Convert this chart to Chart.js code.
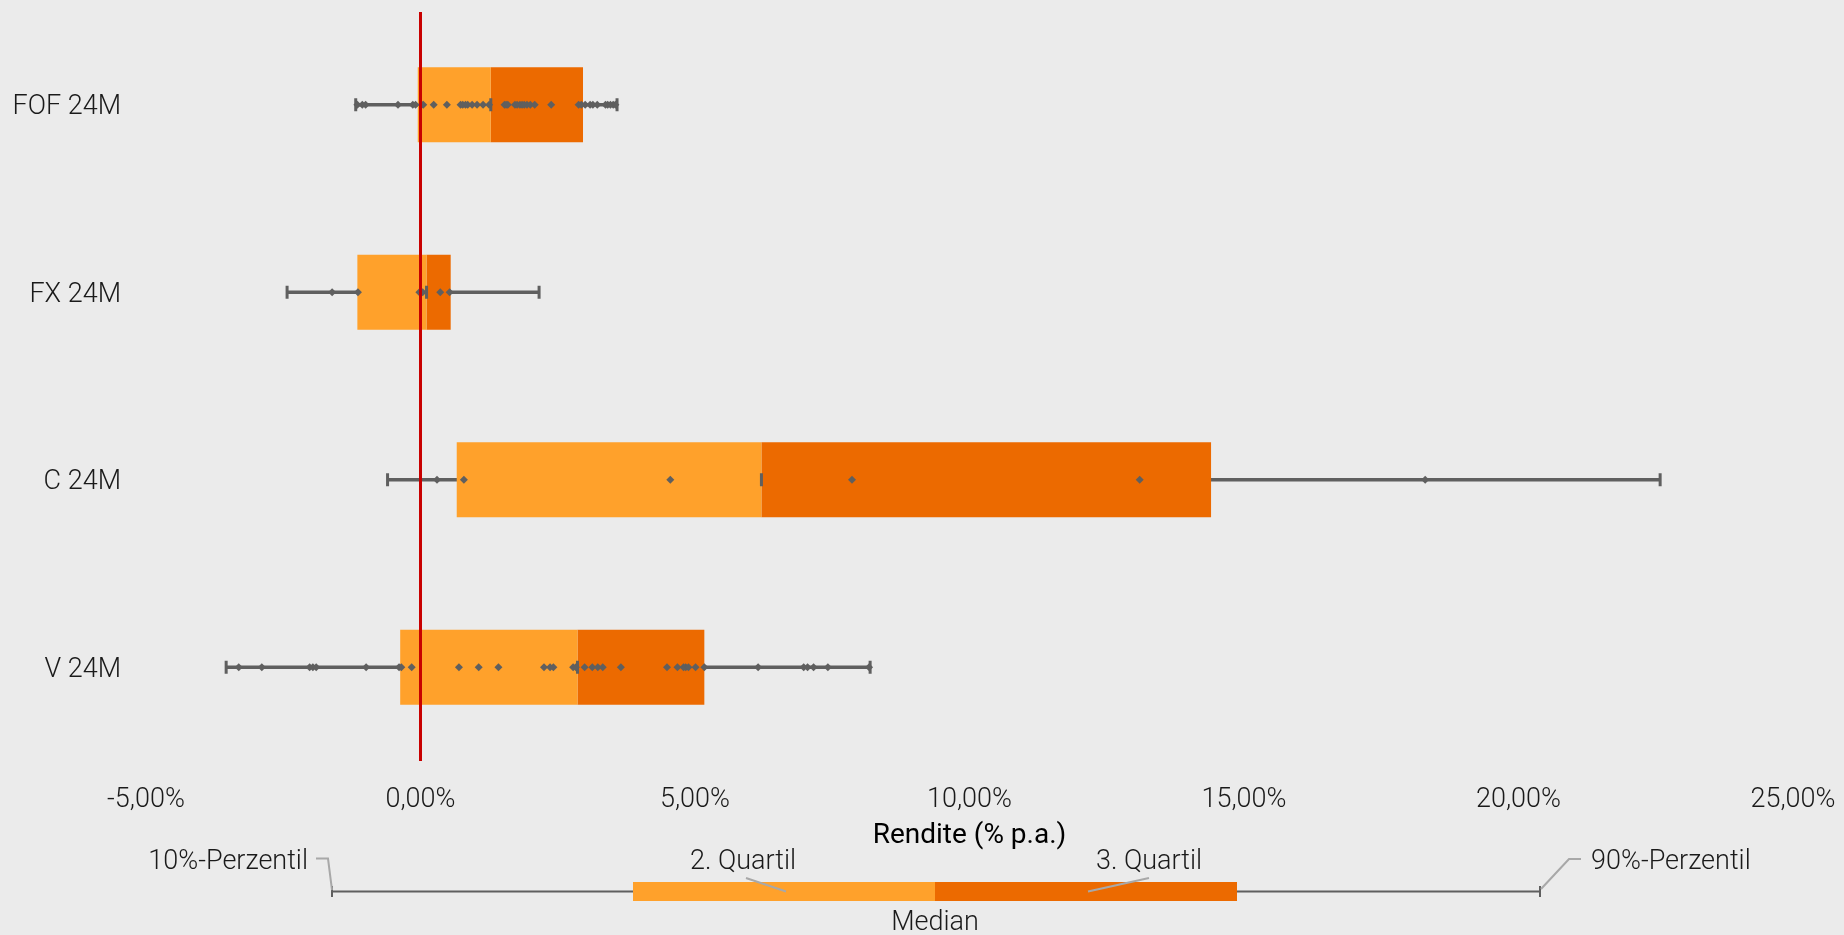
<!DOCTYPE html>
<html lang="de">
<head>
<meta charset="UTF-8">
<title>Rendite (% p.a.)</title>
<script src="https://cdn.jsdelivr.net/npm/chart.js@4/dist/chart.umd.min.js"></script>
<style>
  html, body { margin: 0; padding: 0; background: #ebebeb; }
</style>
</head>
<body>
<canvas id="myChart" width="1844" height="935"></canvas>
<script>
// Kategorien und Kennzahlen (Rendite in % p.a.)
const kategorien = ['FOF 24M', 'FX 24M', 'C 24M', 'V 24M'];
const perzentil10 = [-1.18, -2.43, -0.60, -3.54];
const quartil1   = [-0.05, -1.15, 0.66, -0.37];
const median     = [1.28, 0.11, 6.21, 2.86];
const quartil3   = [2.96, 0.55, 14.40, 5.17];
const perzentil90 = [3.58, 2.16, 22.58, 8.19];

// Einzelwerte je Kategorie
const punkteFOF = [-1.15, -1.06, -1.00, -0.41, -0.14, -0.09, 0.02, 0.05, 0.24, 0.48, 0.73, 0.77, 0.82, 0.86, 0.94,
  1.03, 1.14, 1.25, 1.53, 1.56, 1.59, 1.72, 1.76, 1.81, 1.85, 1.89, 1.94, 2.00, 2.08, 2.38, 2.88, 2.93, 3.00,
  3.09, 3.14, 3.22, 3.37, 3.41, 3.46, 3.51, 3.55];
const punkteFX = [-1.61, -1.14, -0.02, 0.04, 0.36, 0.53];
const punkteC = [0.30, 0.79, 4.55, 7.86, 13.10, 18.30];
const punkteV = [-3.31, -2.89, -2.02, -1.96, -1.90, -0.99, -0.39, -0.35, -0.16, 0.70, 1.06, 1.42, 2.25, 2.36, 2.42,
  2.78, 2.83, 2.99, 3.13, 3.23, 3.32, 3.65, 4.49, 4.68, 4.79, 4.83, 4.88, 5.01, 5.17, 6.15, 6.98, 7.05, 7.16, 7.42, 8.17];
const punkte = [punkteFOF, punkteFX, punkteC, punkteV];

// Achse
const xMin = -5;
const xMax = 25;
const xSchritt = 5;
const achsenTitel = 'Rendite (% p.a.)';

// Farben
const farbeQ2 = '#ffa12b';
const farbeQ3 = '#ec6a00';
const farbeGrau = '#5f5f5f';
const farbeRot = '#c80000';
const farbeText = '#1a1a1a';
const schrift = "Roboto, 'Liberation Sans', sans-serif";

const formatProzent = v => v.toFixed(2).replace('.', ',') + '%';

// Hintergrund
const hintergrund = {
    id: 'hintergrund',
    beforeDraw(chart) {
        const ctx = chart.ctx;
        ctx.save();
        ctx.fillStyle = '#ebebeb';
        ctx.fillRect(0, 0, chart.width, chart.height);
        ctx.restore();
    }
};

// rote Linie bei 0 %
const nullLinie = {
    id: 'nullLinie',
    afterDatasetsDraw(chart) {
        const ctx = chart.ctx;
        const x = chart.scales.x.getPixelForValue(0);
        ctx.save();
        ctx.strokeStyle = farbeRot;
        ctx.lineWidth = 3;
        ctx.beginPath();
        ctx.moveTo(x, chart.chartArea.top + 1);
        ctx.lineTo(x, chart.chartArea.bottom);
        ctx.stroke();
        ctx.restore();
    }
};

// Legende (Schema eines Boxplots) unterhalb der Achse
const legende = {
    id: 'legende',
    afterDraw(chart) {
        const ctx = chart.ctx;
        ctx.save();
        const yLinie = 891.5;
        // Whisker
        ctx.strokeStyle = farbeGrau;
        ctx.lineWidth = 2;
        ctx.beginPath();
        ctx.moveTo(332, yLinie);
        ctx.lineTo(1540, yLinie);
        ctx.moveTo(332, 886);
        ctx.lineTo(332, 897);
        ctx.moveTo(1540, 886);
        ctx.lineTo(1540, 897);
        ctx.stroke();
        // Box
        ctx.fillStyle = farbeQ2;
        ctx.fillRect(633, 882, 302, 19);
        ctx.fillStyle = farbeQ3;
        ctx.fillRect(935, 882, 302, 19);
        // Hinweislinien
        ctx.strokeStyle = '#a8a8a8';
        ctx.lineWidth = 2;
        ctx.beginPath();
        ctx.moveTo(316, 858.5); ctx.lineTo(328, 858.5); ctx.lineTo(332, 890);
        ctx.moveTo(746, 878); ctx.lineTo(786, 891.5);
        ctx.moveTo(1149, 878); ctx.lineTo(1088, 891.5);
        ctx.moveTo(1581, 859); ctx.lineTo(1569, 859); ctx.lineTo(1541, 889);
        ctx.stroke();
        // Texte
        ctx.fillStyle = farbeText;
        ctx.font = '300 27px ' + schrift;
        ctx.textBaseline = 'middle';
        ctx.textAlign = 'right';
        ctx.fillText('10%-Perzentil', 308, 862);
        ctx.textAlign = 'left';
        ctx.fillText('90%-Perzentil', 1591, 862);
        ctx.textAlign = 'center';
        ctx.fillText('2. Quartil', 743, 862);
        ctx.fillText('3. Quartil', 1149, 862);
        ctx.fillText('Median', 935, 923);
        ctx.restore();
    }
};

const punktDaten = [];
punkte.forEach((liste, i) => liste.forEach(v => punktDaten.push({ x: v, y: kategorien[i] })));

const strichDaten = [];
kategorien.forEach((k, i) => {
    strichDaten.push({ x: perzentil10[i], y: k });
    strichDaten.push({ x: median[i], y: k });
    strichDaten.push({ x: perzentil90[i], y: k });
});

const data = {
    labels: kategorien,
    datasets: [{
        type: 'scatter',
        label: 'Einzelwerte',
        indexAxis: 'x',
        data: punktDaten,
        pointStyle: 'rectRot',
        pointRadius: 4,
        pointBackgroundColor: farbeGrau,
        pointBorderWidth: 0,
        order: 0
    }, {
        type: 'scatter',
        label: 'Striche',
        indexAxis: 'x',
        data: strichDaten,
        pointStyle: 'line',
        pointRotation: 90,
        pointRadius: 6.5,
        pointBorderColor: farbeGrau,
        pointBorderWidth: 3,
        order: 1
    }, {
        label: '2. Quartil',
        data: kategorien.map((k, i) => [quartil1[i], median[i]]),
        backgroundColor: farbeQ2,
        grouped: false,
        order: 2
    }, {
        label: '3. Quartil',
        data: kategorien.map((k, i) => [median[i], quartil3[i]]),
        backgroundColor: farbeQ3,
        grouped: false,
        order: 2
    }, {
        label: 'Spanne',
        data: kategorien.map((k, i) => [perzentil10[i], perzentil90[i]]),
        backgroundColor: farbeGrau,
        barThickness: 3,
        grouped: false,
        order: 3
    }]
};

const config = {
    type: 'bar',
    data: data,
    options: {
        indexAxis: 'y',
        responsive: false,
        animation: false,
        devicePixelRatio: 1,
        categoryPercentage: 1,
        barPercentage: 0.4,
        layout: { padding: { top: 11, right: 51, bottom: 82, left: 0 } },
        plugins: { legend: { display: false }, tooltip: { enabled: false } },
        scales: {
            x: {
                type: 'linear',
                position: 'bottom',
                min: xMin,
                max: xMax,
                grid: { display: false, drawTicks: false },
                border: { display: false },
                ticks: {
                    stepSize: xSchritt,
                    padding: 23,
                    color: farbeText,
                    font: { family: schrift, size: 27, weight: 300 },
                    callback: v => formatProzent(v)
                },
                title: {
                    display: true,
                    text: achsenTitel,
                    color: '#000',
                    padding: 0,
                    font: { family: schrift, size: 28, weight: 400 }
                },
                afterFit: s => { s.height = 92; s.paddingLeft = 0; s.paddingRight = 0; }
            },
            y: {
                type: 'category',
                position: 'left',
                grid: { display: false, drawTicks: false },
                border: { display: false },
                ticks: {
                    padding: 25,
                    labelOffset: 2.5,
                    color: farbeText,
                    font: { family: schrift, size: 27, weight: 300 }
                },
                afterFit: s => { s.width = 146; s.paddingTop = 0; s.paddingBottom = 0; }
            }
        }
    },
    plugins: [hintergrund, nullLinie, legende]
};

new Chart(document.getElementById('myChart').getContext('2d'), config);
</script>
</body>
</html>
